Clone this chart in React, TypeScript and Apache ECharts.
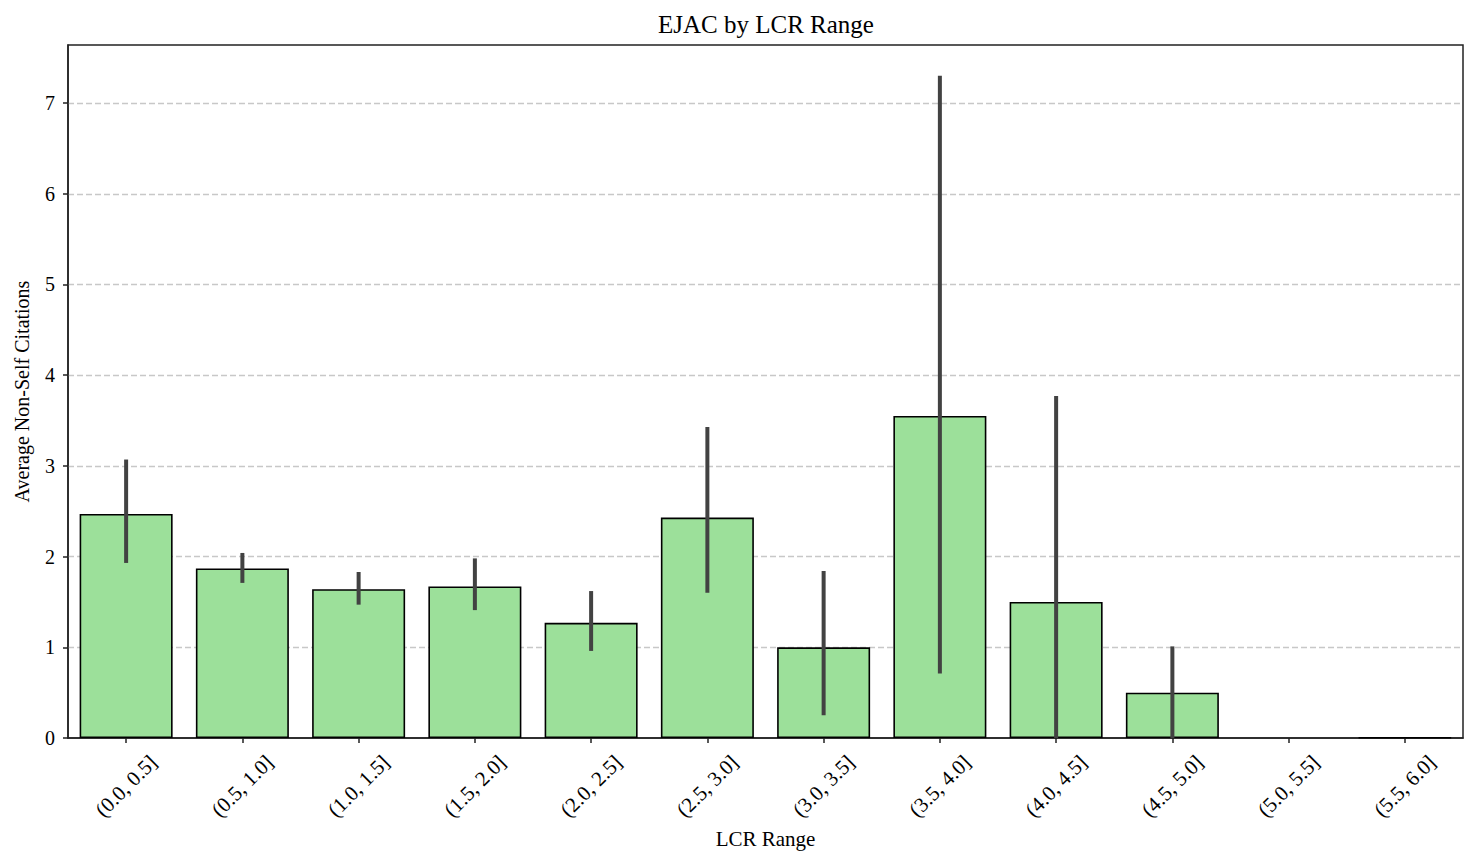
import React, { useEffect, useRef } from "react";
import * as echarts from "echarts";

const categories = [
  "(0.0, 0.5]", "(0.5, 1.0]", "(1.0, 1.5]", "(1.5, 2.0]", "(2.0, 2.5]", "(2.5, 3.0]",
  "(3.0, 3.5]", "(3.5, 4.0]", "(4.0, 4.5]", "(4.5, 5.0]", "(5.0, 5.5]", "(5.5, 6.0]",
];
const means: (number | null)[] = [2.47, 1.87, 1.64, 1.67, 1.27, 2.43, 1.0, 3.55, 1.5, 0.5, null, 0.004];
const errLow: (number | null)[] = [1.93, 1.71, 1.47, 1.41, 0.96, 1.6, 0.25, 0.71, 0, 0, null, null];
const errHigh: (number | null)[] = [3.07, 2.04, 1.83, 1.98, 1.62, 3.43, 1.84, 7.3, 3.77, 1.01, null, null];
const yTicks = [0, 1, 2, 3, 4, 5, 6, 7];

const FONT = "'Liberation Serif', 'Times New Roman', serif";

export default function App() {
  const ref = useRef<HTMLDivElement>(null);
  useEffect(() => {
    if (!ref.current) return;
    const chart = echarts.init(ref.current, undefined, { renderer: "svg" });
    const errData = categories
      .map((_, i) => [i, errLow[i], errHigh[i]])
      .filter((d) => d[1] !== null && d[2] !== null);
    chart.setOption({
      animation: false,
      textStyle: { fontFamily: FONT },
      title: {
        text: "EJAC by LCR Range",
        left: 653,
        top: 7,
        textStyle: { fontFamily: FONT, fontSize: 25, fontWeight: "normal", color: "#000" },
      },
      grid: {
        left: 68,
        right: 15,
        top: 45,
        bottom: 126,
        show: true,
        borderColor: "#222",
        borderWidth: 1.5,
        backgroundColor: "transparent",
      },
      xAxis: {
        type: "category",
        data: categories,
        name: "LCR Range",
        nameLocation: "middle",
        nameGap: 90,
        nameTextStyle: { fontFamily: FONT, fontSize: 21, color: "#000" },
        axisLine: { show: true, lineStyle: { color: "#222", width: 1.5 } },
        axisTick: { show: true, alignWithLabel: true, length: 5, lineStyle: { color: "#222", width: 1.5 } },
        axisLabel: {
          rotate: 45,
          interval: 0,
          align: "center",
          verticalAlign: "middle",
          fontFamily: FONT,
          fontSize: 21,
          color: "#000",
          margin: 48,
        },
        splitLine: { show: false },
      },
      yAxis: {
        type: "value",
        min: 0,
        max: 7.64,
        interval: 1,
        name: "Average Non-Self Citations",
        nameLocation: "middle",
        nameGap: 36,
        nameTextStyle: { fontFamily: FONT, fontSize: 20, color: "#000" },
        axisLine: { show: true, lineStyle: { color: "#222", width: 1.5 } },
        axisTick: { show: true, length: 5, customValues: yTicks, lineStyle: { color: "#222", width: 1.5 } },
        axisLabel: {
          fontFamily: FONT,
          fontSize: 20,
          color: "#000",
          margin: 13,
          customValues: yTicks,
        },
        splitLine: {
          show: true,
          showMaxLine: true,
          showMinLine: false,
          lineStyle: { color: "#c8c8c8", type: [6, 3], width: 1.3 },
        },
      },
      series: [
        {
          type: "bar",
          data: means,
          barCategoryGap: "20%",
          itemStyle: { color: "#9ce09a", borderColor: "#000", borderWidth: 1.6 },
          z: 2,
        },
        {
          type: "custom",
          data: errData,
          encode: { x: 0, y: [1, 2] },
          z: 3,
          renderItem: (params: any, api: any) => {
            const x = api.value(0);
            const p1 = api.coord([x, api.value(1)]);
            const p2 = api.coord([x, api.value(2)]);
            return {
              type: "line",
              shape: { x1: p1[0], y1: p1[1], x2: p2[0], y2: p2[1] },
              style: { stroke: "#424242", lineWidth: 4 },
            };
          },
        },
      ],
    });
    return () => chart.dispose();
  }, []);
  return <div ref={ref} style={{ width: 1478, height: 864, position: "absolute", left: 0, top: 0 }} />;
}
